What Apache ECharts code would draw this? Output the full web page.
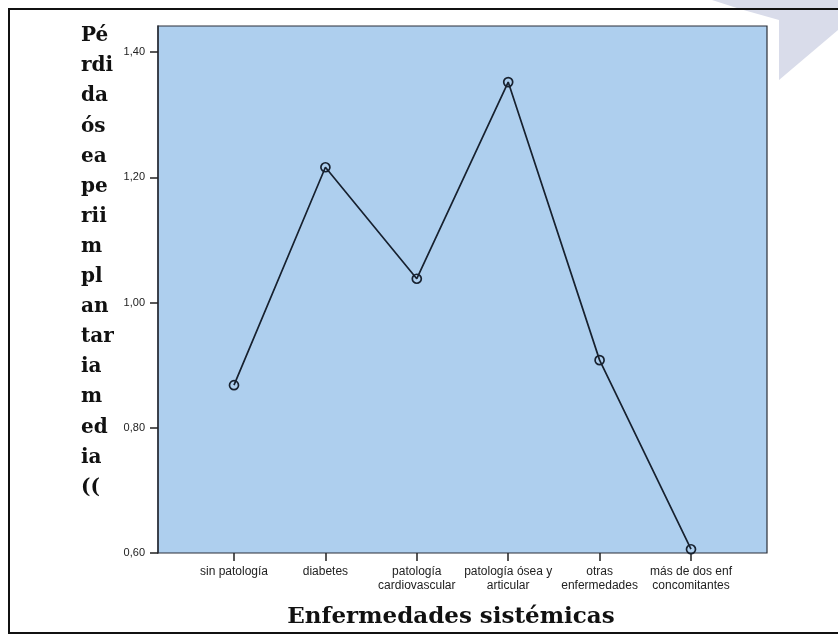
<!DOCTYPE html>
<html>
<head>
<meta charset="utf-8">
<script src="https://cdn.jsdelivr.net/npm/echarts@6/dist/echarts.min.js"></script>
<style>
html, body { margin: 0; padding: 0; background: #fff; }
#chart { width: 838px; height: 635px; }
</style>
</head>
<body>
<div id="chart"></div>
<script>
var categorias = ['sin patología', 'diabetes', 'patología\ncardiovascular', 'patología ósea y\narticular', 'otras\nenfermedades', 'más de dos enf\nconcomitantes'];
var perdidaMedia = [0.868, 1.216, 1.038, 1.352, 0.908, 0.606];
var tituloY = ['Pé', 'rdi', 'da', 'ós', 'ea', 'pe', 'rii', 'm', 'pl', 'an', 'tar', 'ia', 'm', 'ed', 'ia', '(('];
var tituloX = 'Enfermedades sistémicas';

var chart = echarts.init(document.getElementById('chart'));

function fmtComa(v) {
	return v.toFixed(2).replace('.', ',');
}

var option = {
	animation: false,
	backgroundColor: '#fff',
	graphic: [{
		type: 'polygon',
		z: -10,
		shape: { points: [[712, 0], [838, 0], [838, 30], [779, 80], [779, 20], [740, 9]] },
		style: { fill: '#d9dcea' }
	}, {
		type: 'rect',
		z: -5,
		shape: { x: 9, y: 9, width: 840, height: 624 },
		style: { fill: 'none', stroke: '#111', lineWidth: 2 }
	}, {
		type: 'rect',
		z: -4,
		shape: { x: 152, y: 20, width: 626, height: 580 },
		style: { fill: '#fff' }
	}, {
		type: 'text',
		left: 81,
		top: 21,
		style: {
			text: tituloY.join('\n'),
			font: 'bold 20px "DejaVu Serif", serif',
			lineHeight: 30.1,
			fill: '#111'
		}
	}, {
		type: 'text',
		style: {
			text: tituloX,
			x: 451,
			y: 606,
			textAlign: 'center',
			textVerticalAlign: 'top',
			font: 'bold 23px "DejaVu Serif", serif',
			fill: '#111'
		}
	}],
	grid: [{
		left: 158, top: 26, width: 609, height: 527,
		show: true,
		backgroundColor: '#aecfee',
		borderColor: '#2a2f38',
		borderWidth: 1.2
	}, {
		left: 234, top: 26, width: 457, height: 527
	}],
	xAxis: [{
		gridIndex: 0,
		type: 'value',
		min: 0, max: 1,
		show: false
	}, {
		gridIndex: 1,
		type: 'category',
		boundaryGap: false,
		data: categorias,
		axisLine: { show: false },
		axisTick: { show: true, length: 8, lineStyle: { color: '#222', width: 1.5 } },
		axisLabel: {
			interval: 0,
			color: '#222',
			fontFamily: 'Liberation Sans, Arial',
			fontSize: 12,
			lineHeight: 14,
			margin: 12
		},
		splitLine: { show: false }
	}],
	yAxis: [{
		gridIndex: 0,
		type: 'value',
		min: 0.6,
		max: 1.4416,
		interval: 0.2,
		axisLine: { show: true, lineStyle: { color: '#2a2f38', width: 1.5 } },
		axisTick: { show: true, length: 8, lineStyle: { color: '#222', width: 1.5 } },
		axisLabel: {
			color: '#222',
			fontFamily: 'Liberation Sans, Arial',
			fontSize: 11,
			margin: 13,
			showMaxLabel: false,
			formatter: function(v) {
				return v > 1.43 ? '' : fmtComa(v);
			}
		},
		splitLine: { show: false }
	}, {
		gridIndex: 1,
		type: 'value',
		min: 0.6,
		max: 1.4416,
		show: false
	}],
	series: [{
		type: 'line',
		xAxisIndex: 1,
		yAxisIndex: 1,
		data: perdidaMedia,
		symbol: 'circle',
		symbolSize: 9,
		lineStyle: { color: '#17212f', width: 1.7 },
		itemStyle: { color: 'rgba(0,0,0,0)', borderColor: '#17212f', borderWidth: 1.7 }
	}]
};

chart.setOption(option);
</script>
</body>
</html>
